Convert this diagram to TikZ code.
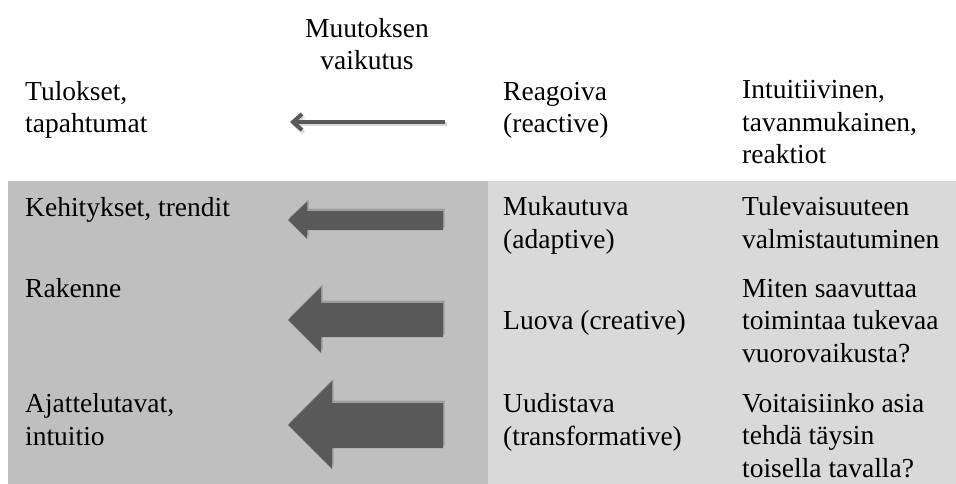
\documentclass[tikz,border=0pt]{standalone}
\usepackage{fontspec}
\setmainfont{Liberation Serif}
\usetikzlibrary{arrows.meta}
\definecolor{panelA}{HTML}{BFBFBF}
\definecolor{panelB}{HTML}{D9D9D9}
\definecolor{arrowgray}{HTML}{595959}
\tikzset{
  txt/.style={anchor=base west, inner sep=0pt, align=left, font=\fontsize{27.5}{32.5}\selectfont},
  bigarrow/.style={fill=arrowgray, draw=none},
  arrshadow/.style={fill=black, opacity=0.18, draw=none},
}
\begin{document}
\begin{tikzpicture}[x=1pt,y=-1pt]
\useasboundingbox (0,0) rectangle (956,484);
\fill[white] (0,0) rectangle (956,484);
% panels
\fill[panelA] (8,181) rectangle (488,484);
\fill[panelB] (488,181) rectangle (956,484);
% header texts (anchor = baseline of last line)
\node[txt, anchor=base, align=center] (muutos) at (367,70) {Muutoksen\\vaikutus};
\node[txt] (tulokset) at (25,133) {Tulokset,\\tapahtumat};
\node[txt] (reagoiva) at (503,133) {Reagoiva\\(reactive)};
\node[txt] (intuit) at (742,164) {Intuitiivinen,\\tavanmukainen,\\reaktiot};
% thin arrow
\coordinate (ta) at (445,122);
\coordinate (tb) at (290,122);
\draw[black, opacity=0.15, line width=4pt, -{Straight Barb[length=9pt,width=16pt]}] ([shift={(1.5,2.5)}]ta) -- ([shift={(1.5,2.5)}]tb);
\draw[arrowgray, line width=4pt, -{Straight Barb[length=9pt,width=16pt]}] (ta) -- (tb);
% left column
\node[txt] (kehit) at (25,216) {Kehitykset, trendit};
\node[txt] (rakenne) at (25,297) {Rakenne};
\node[txt] (ajattelu) at (25,445) {Ajattelutavat,\\intuitio};
% middle column
\node[txt] (mukaut) at (503,248) {Mukautuva\\(adaptive)};
\node[txt] (luova) at (503,329) {Luova (creative)};
\node[txt] (uudist) at (503,445) {Uudistava\\(transformative)};
% right column
\node[txt] (tulev) at (742,248) {Tulevaisuuteen\\valmistautuminen};
\node[txt] (miten) at (742,362) {Miten saavuttaa\\toimintaa tukevaa\\vuorovaikusta?};
\node[txt] (voit) at (742,477) {Voitaisiinko asia\\tehdä täysin\\toisella tavalla?};
% block arrows (shadow then arrow)
\foreach \dx/\dy/\s in {1.5/2.5/arrshadow, 0/0/bigarrow}{
  \path[\s, shift={(\dx,-\dy)}] (288,220) -- (307,202) -- (307,211) -- (443,211) -- (443,230) -- (307,230) -- (307,239) -- cycle;
  \path[\s, shift={(\dx,-\dy)}] (288,320) -- (321,287) -- (321,303) -- (443,303) -- (443,337) -- (321,337) -- (321,353) -- cycle;
  \path[\s, shift={(\dx,-\dy)}] (288,425) -- (332,381) -- (332,403) -- (443,403) -- (443,448) -- (332,448) -- (332,469) -- cycle;
}
\end{tikzpicture}
\end{document}
